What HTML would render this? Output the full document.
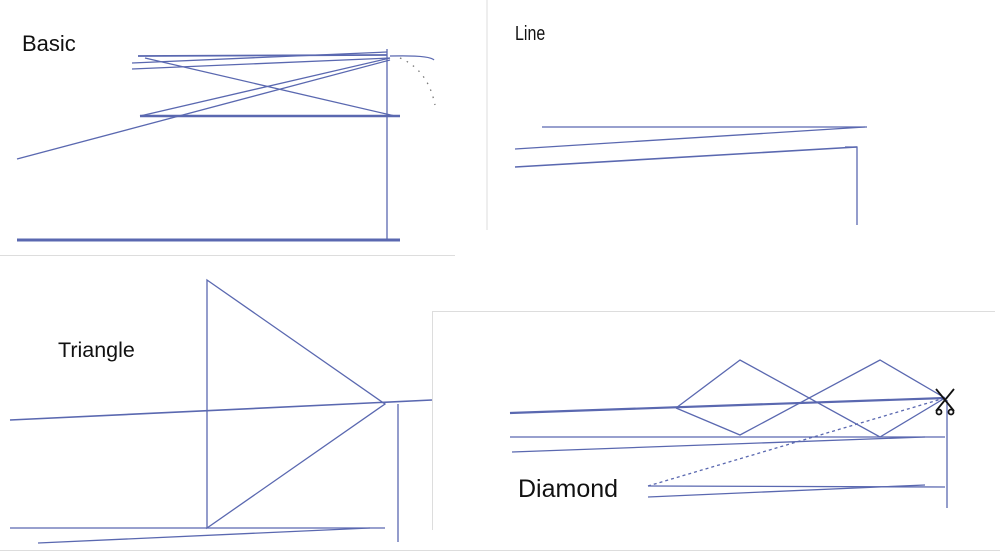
<!DOCTYPE html>
<html><head><meta charset="utf-8"><style>
html,body{margin:0;padding:0;background:#fff;width:1000px;height:554px;overflow:hidden}
svg{display:block}
text{font-family:"Liberation Sans",sans-serif;fill:#111}
</style></head><body>
<svg width="1000" height="554" viewBox="0 0 1000 554" xmlns="http://www.w3.org/2000/svg">
<g stroke="#ddd" stroke-width="1" fill="none">
<line x1="487" y1="0" x2="487" y2="230"/>
<line x1="0" y1="255.5" x2="455" y2="255.5"/>
<line x1="432.5" y1="311" x2="432.5" y2="530"/>
<line x1="432" y1="311.5" x2="995" y2="311.5"/>
<line x1="0" y1="550.5" x2="1000" y2="550.5"/>
</g>
<text x="22" y="51" font-size="22">Basic</text>
<text x="515" y="40" font-size="20" transform="translate(515,0) scale(0.8,1) translate(-515,0)">Line</text>
<text x="58" y="357" font-size="21.5">Triangle</text>
<text x="518" y="497" font-size="25">Diamond</text>
<g stroke="#5a68b0" fill="none" stroke-width="1.3">
<line x1="387" y1="49" x2="387" y2="240"/>
<line x1="17" y1="240" x2="400" y2="240" stroke-width="3"/>
<line x1="140" y1="116" x2="400" y2="116" stroke-width="2.5"/>
<line x1="138" y1="56" x2="387" y2="55" stroke-width="1.8"/>
<line x1="132" y1="63" x2="387" y2="52"/>
<line x1="132" y1="69" x2="390" y2="58"/>
<line x1="145" y1="58" x2="395" y2="116"/>
<line x1="140" y1="116" x2="390" y2="58"/>
<line x1="17" y1="159" x2="390" y2="60"/>
<path d="M390 56 Q430 55 434 60"/>
<path d="M400 58 Q428 70 435 105" stroke-dasharray="1.5 6" stroke="#777"/>
<line x1="542" y1="127" x2="867" y2="127"/>
<line x1="515" y1="149" x2="865" y2="127"/>
<line x1="515" y1="167" x2="857" y2="147" stroke-width="1.6"/>
<polyline points="845,147 857,147 857,225"/>
<polygon points="207,280 385,404 207,528"/>
<line x1="10" y1="420" x2="432" y2="400" stroke-width="1.6"/>
<line x1="398" y1="404" x2="398" y2="542"/>
<line x1="10" y1="528" x2="385" y2="528"/>
<line x1="38" y1="543" x2="370" y2="528"/>
<line x1="510" y1="413" x2="945" y2="398" stroke-width="2.2"/>
<line x1="510" y1="437" x2="945" y2="437"/>
<line x1="512" y1="452" x2="925" y2="437"/>
<polyline points="676,408 740,360 880,437 945,398"/>
<polyline points="676,408 740,435 880,360 945,398"/>
<line x1="648" y1="486" x2="945" y2="398" stroke-dasharray="3 3"/>
<line x1="648" y1="486" x2="945" y2="487"/>
<line x1="648" y1="497" x2="925" y2="485"/>
<line x1="947" y1="400" x2="947" y2="508"/>
</g>
<g stroke="#111" stroke-width="1.8" fill="none">
<line x1="936" y1="389" x2="954" y2="411"/>
<line x1="954" y1="389" x2="936" y2="411"/>
<circle cx="939" cy="412" r="2.5"/>
<circle cx="951" cy="412" r="2.5"/>
</g>
</svg>
</body></html>
